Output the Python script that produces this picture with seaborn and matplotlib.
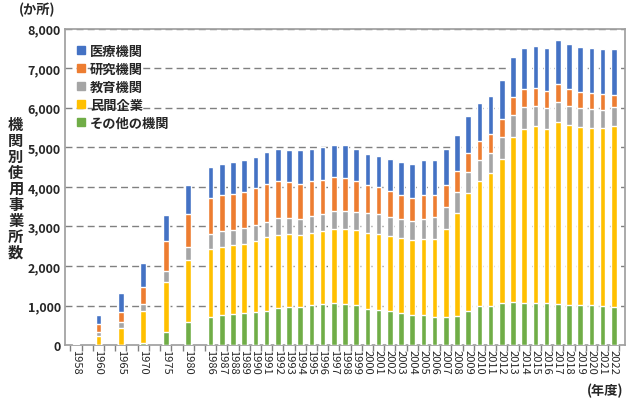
import matplotlib
matplotlib.use("Agg")
import matplotlib.pyplot as plt
import seaborn as sns
import numpy as np

years = ["1958","1960","1965","1970","1975","1980"] + [str(y) for y in range(1986, 2023)]
slots = [0, 2, 4, 6, 8, 10] + list(range(12, 49))

other = [0,0,0,60,333,583,717,758,783,800,825,875,933,967,967,1008,1033,1054,1037,1003,911,885,852,818,759,759,708,708,734,852,987,987,1054,1088,1071,1071,1054,1037,1020,1003,1003,987,970]
private = [5,230,425,815,1267,1567,1708,1725,1742,1758,1800,1850,1859,1841,1825,1825,1842,1889,1906,1897,1930,1931,1905,1880,1889,1931,1982,2235,2605,2984,3153,3355,3659,4182,4401,4460,4418,4604,4536,4511,4478,4494,4578]
education = [3,110,150,175,275,333,383,392,392,400,425,400,416,417,400,434,433,455,455,464,490,489,489,481,489,506,539,548,540,532,531,523,540,540,540,515,515,506,490,473,480,472,464]
research = [4,190,250,425,758,825,917,917,916,925,917,942,942,892,891,875,859,860,835,793,708,692,658,624,590,607,574,565,531,497,498,481,472,455,455,455,446,447,438,404,405,396,312]
medical = [8,230,485,595,667,734,775,791,809,809,791,813,810,823,847,818,843,801,818,792,801,792,801,818,860,885,885,902,910,928,944,952,987,1020,1046,1071,1088,1129,1130,1147,1147,1147,1155]

names = ["医療機関", "研究機関", "教育機関", "民間企業", "その他の機関"]
colors = ["#4472C4", "#ED7D31", "#A5A5A5", "#FFC000", "#70AD47"]

plt.rcParams["font.family"] = "Noto Sans CJK JP"
sns.set_theme(style="white", font="Noto Sans CJK JP")
fig = plt.figure(figsize=(6.3, 4.02), dpi=100)
ax = fig.add_axes([0.103, 0.139, 0.889, 0.787])

layers = [other, private, education, research, medical]
cum = np.cumsum(np.array(layers), axis=0)
order = [4, 3, 2, 1, 0]  # draw tallest first
for i in order:
    sns.barplot(x=slots, y=cum[i], native_scale=True, color=colors[4 - i],
                width=0.5, ax=ax, saturation=1, errorbar=None, zorder=3)

ax.set_xlim(-1, 49)
ax.set_ylim(0, 8000)
ax.set_yticks(range(0, 8001, 1000))
ax.set_yticklabels([f"{v:,}" for v in range(0, 8001, 1000)], fontsize=9, fontweight="bold")
ax.set_xticks(slots)
ax.set_xticklabels(years, rotation=270, fontsize=8)
ax.set_xticks(np.arange(-0.5, 49, 1), minor=True)
ax.tick_params(axis="x", which="major", length=0, pad=3)
ax.tick_params(axis="x", which="minor", length=4, color="#808080", bottom=True)
ax.tick_params(axis="y", length=0, pad=3)
for y in range(1000, 8001, 1000):
    ax.axhline(y, color="#808080", linestyle=(0, (5, 3)), linewidth=1, zorder=1)
for s in ax.spines.values():
    s.set_color("#A0A0A0")
ax.set_xlabel("")
ax.set_ylabel("")

from matplotlib.patches import Patch
handles = [Patch(color=c) for c in colors]
leg = ax.legend(handles, names, loc="upper left", bbox_to_anchor=(0.0, 0.99), frameon=False,
                handlelength=0.6, handleheight=0.6, handletextpad=0.4, labelspacing=0.3,
                prop={"family": "Noto Sans CJK JP", "weight": "bold", "size": 9.5})

fig.text(0.03, 0.965, "(か所)", fontsize=9.5, fontweight="bold")
fig.text(0.025, 0.53, "\n".join("機関別使用事業所数"), fontsize=11, fontweight="bold",
         ha="center", va="center", linespacing=1.0)
fig.text(0.99, 0.01, "(年度)", fontsize=9.5, fontweight="bold", ha="right", va="bottom")

fig.savefig("out.png", dpi=100)
